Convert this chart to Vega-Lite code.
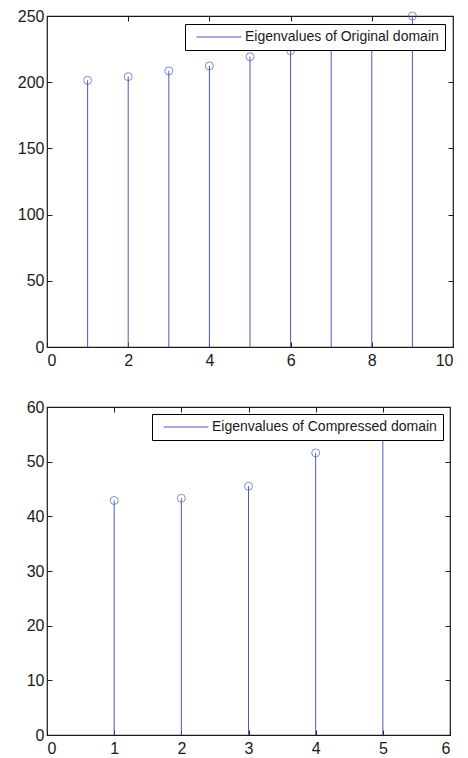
{
  "$schema": "https://vega.github.io/schema/vega-lite/v6.json",
  "padding": {"left": 16, "top": 7, "right": 8, "bottom": 5},
  "background": "white",
  "config": {
    "view": {"stroke": "#1a1a1a", "strokeWidth": 1.2},
    "font": "Liberation Sans",
    "axis": {
      "grid": false,
      "domain": false,
      "tickSize": -5,
      "tickColor": "#1a1a1a",
      "labelColor": "#1a1a1a",
      "labelFont": "Liberation Sans",
      "labelFontSize": 16
    },
    "legend": {
      "labelFont": "Liberation Sans",
      "labelFontSize": 14,
      "labelColor": "#1a1a1a",
      "labelLimit": 400
    }
  },
  "datasets": {
    "orig": [
      {"x": 1, "v": 201.4, "base": 0, "series": "Eigenvalues of Original domain"},
      {"x": 2, "v": 204.2, "base": 0, "series": "Eigenvalues of Original domain"},
      {"x": 3, "v": 208.5, "base": 0, "series": "Eigenvalues of Original domain"},
      {"x": 4, "v": 212.3, "base": 0, "series": "Eigenvalues of Original domain"},
      {"x": 5, "v": 219.2, "base": 0, "series": "Eigenvalues of Original domain"},
      {"x": 6, "v": 223.8, "base": 0, "series": "Eigenvalues of Original domain"},
      {"x": 7, "v": 231.0, "base": 0, "series": "Eigenvalues of Original domain"},
      {"x": 8, "v": 239.0, "base": 0, "series": "Eigenvalues of Original domain"},
      {"x": 9, "v": 250.0, "base": 0, "series": "Eigenvalues of Original domain"}
    ],
    "comp": [
      {"x": 1, "v": 42.9, "base": 0, "series": "Eigenvalues of Compressed domain"},
      {"x": 2, "v": 43.3, "base": 0, "series": "Eigenvalues of Compressed domain"},
      {"x": 3, "v": 45.5, "base": 0, "series": "Eigenvalues of Compressed domain"},
      {"x": 4, "v": 51.6, "base": 0, "series": "Eigenvalues of Compressed domain"},
      {"x": 5, "v": 55.6, "base": 0, "series": "Eigenvalues of Compressed domain"}
    ]
  },
  "vconcat": [
    {
      "width": 406,
      "height": 331,
      "data": {"name": "orig"},
      "layer": [
        {
          "mark": {"type": "rule", "strokeWidth": 1},
          "encoding": {
            "x": {"field": "x", "type": "quantitative", "scale": {"domain": [0, 10], "nice": false},
                  "axis": {"title": null, "orient": "bottom", "values": [0, 2, 4, 6, 8, 10], "labelPadding": 10}},
            "y": {"field": "v", "type": "quantitative", "scale": {"domain": [0, 250], "nice": false},
                  "axis": {"title": null, "orient": "left", "values": [0, 50, 100, 150, 200, 250], "labelPadding": 8}},
            "y2": {"field": "base"},
            "color": {"field": "series", "type": "nominal", "scale": {"range": ["#4a5ac0"]},
                      "legend": {"title": null, "orient": "top-right", "offset": 8, "symbolType": "M-0.333,0H9.667",
                                 "symbolSize": 81, "symbolStrokeWidth": 1, "padding": 6,
                                 "strokeColor": "#000000", "fillColor": "#ffffff", "labelOffset": 40, "cornerRadius": 0}}
          }
        },
        {
          "mark": {"type": "point", "shape": "circle", "filled": false, "size": 64, "strokeWidth": 1, "color": "#4a5ac0"},
          "encoding": {
            "x": {"field": "x", "type": "quantitative", "axis": {"title": null, "orient": "top", "values": [2, 4, 6, 8], "labels": false}},
            "y": {"field": "v", "type": "quantitative", "axis": {"title": null, "orient": "right", "values": [50, 100, 150, 200], "labels": false}}
          }
        }
      ],
      "resolve": {"axis": {"x": "independent", "y": "independent"}}
    },
    {
      "width": 403,
      "height": 328,
      "data": {"name": "comp"},
      "layer": [
        {
          "mark": {"type": "rule", "strokeWidth": 1},
          "encoding": {
            "x": {"field": "x", "type": "quantitative", "scale": {"domain": [0, 6], "nice": false},
                  "axis": {"title": null, "orient": "bottom", "values": [0, 1, 2, 3, 4, 5, 6], "labelPadding": 10}},
            "y": {"field": "v", "type": "quantitative", "scale": {"domain": [0, 60], "nice": false},
                  "axis": {"title": null, "orient": "left", "values": [0, 10, 20, 30, 40, 50, 60], "labelPadding": 8}},
            "y2": {"field": "base"},
            "color": {"field": "series", "type": "nominal", "scale": {"range": ["#4a5ac0"]},
                      "legend": {"title": null, "orient": "top-right", "offset": 7, "symbolType": "M-0.333,0H9.667",
                                 "symbolSize": 81, "symbolStrokeWidth": 1, "padding": 6,
                                 "strokeColor": "#000000", "fillColor": "#ffffff", "labelOffset": 40, "cornerRadius": 0}}
          }
        },
        {
          "mark": {"type": "point", "shape": "circle", "filled": false, "size": 64, "strokeWidth": 1, "color": "#4a5ac0"},
          "encoding": {
            "x": {"field": "x", "type": "quantitative", "axis": {"title": null, "orient": "top", "values": [1, 2, 3, 4, 5], "labels": false}},
            "y": {"field": "v", "type": "quantitative", "axis": {"title": null, "orient": "right", "values": [10, 20, 30, 40, 50], "labels": false}}
          }
        }
      ],
      "resolve": {"axis": {"x": "independent", "y": "independent"}}
    }
  ],
  "spacing": 29,
  "resolve": {"scale": {"color": "independent"}, "legend": {"color": "independent"}}
}
